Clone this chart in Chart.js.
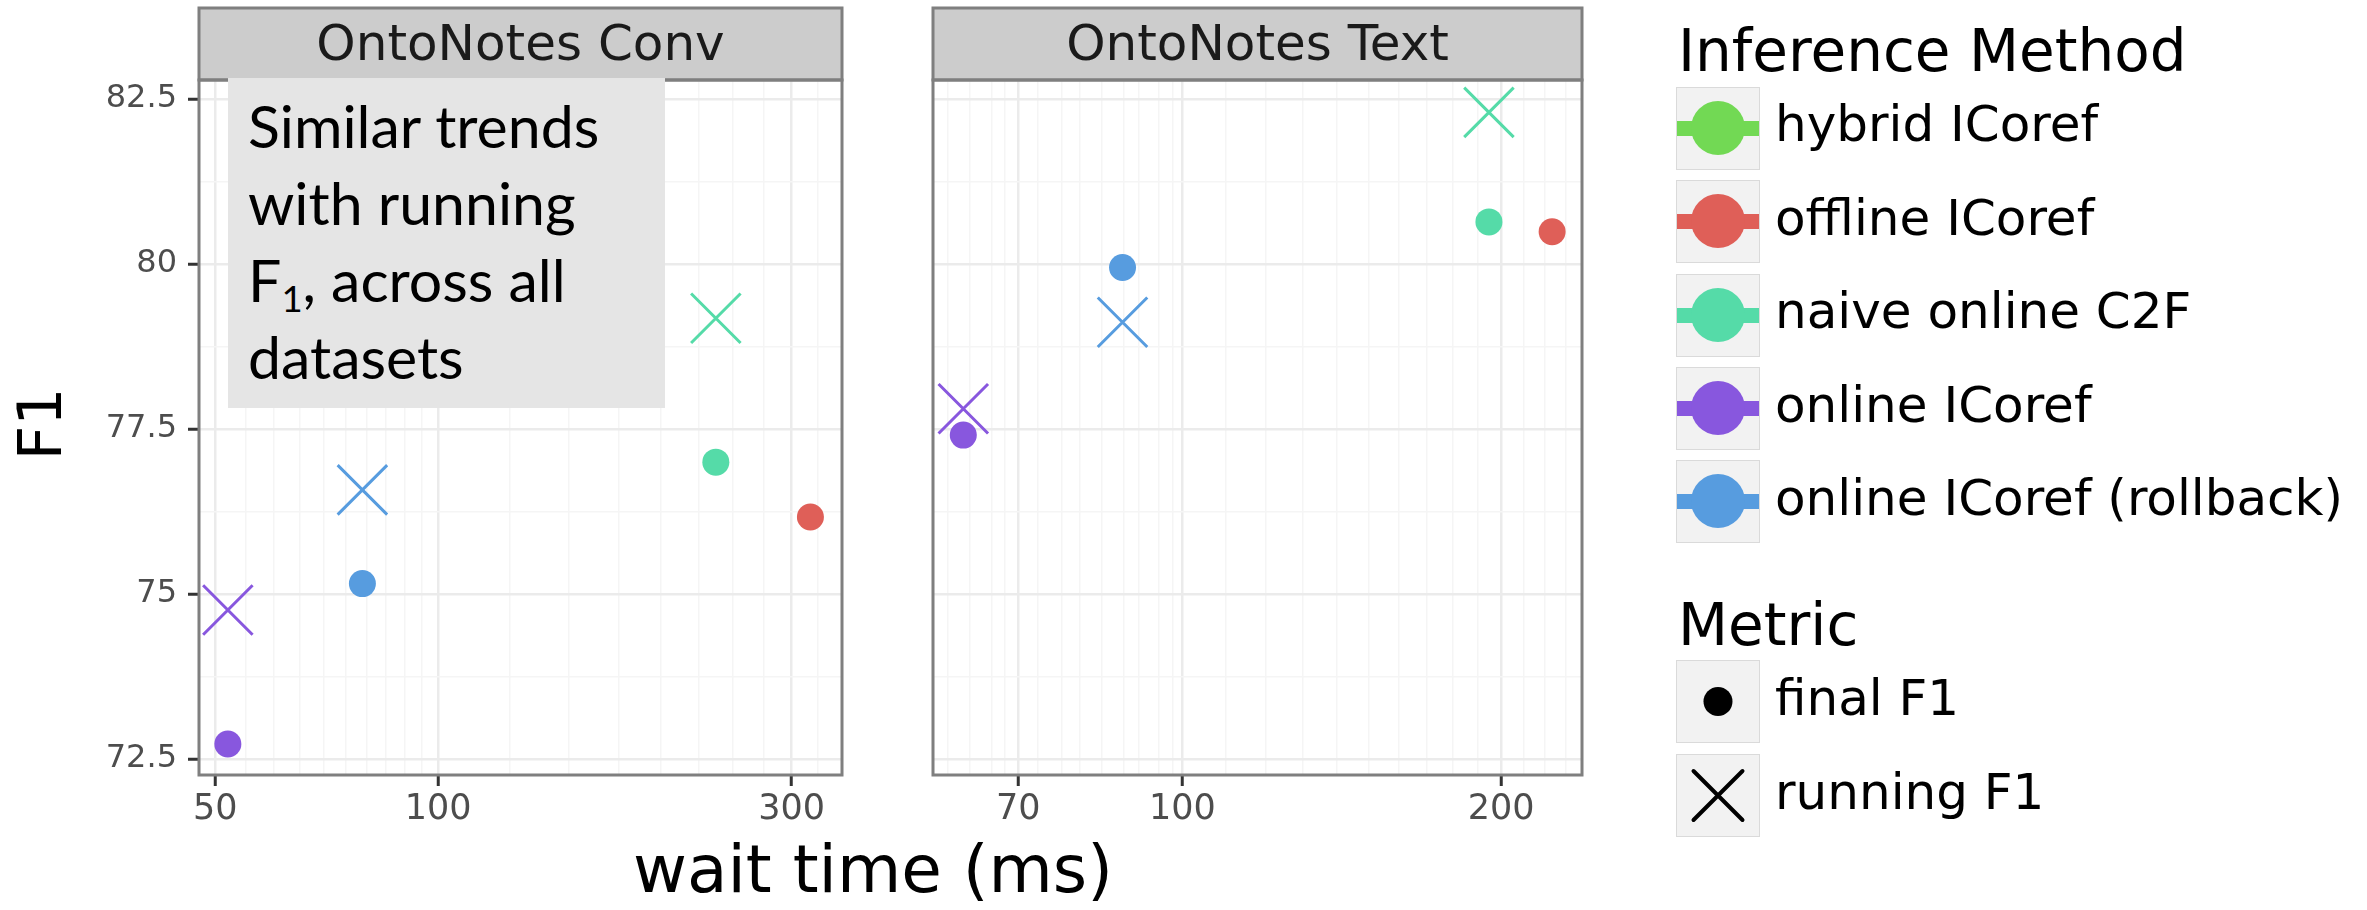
<!DOCTYPE html>
<html>
<head>
<meta charset="utf-8">
<script src="https://cdn.jsdelivr.net/npm/chart.js@4.4.1/dist/chart.umd.min.js"></script>
<style>
  body { margin: 0; background: #fff; }
  #wrap { position: relative; width: 2367px; height: 910px; overflow: hidden; font-family: 'DejaVu Sans', sans-serif; color: #000; }
  #wrap canvas { position: absolute; top: 0; }
  .note { position: absolute; left: 228px; top: 78px; width: 437px; height: 330px; box-sizing: border-box;
          padding: 9px 0 0 20px; background: #e5e5e5; font-family: 'Lato', sans-serif; font-size: 59px; line-height: 77px; color: #000; }
  .note sub { font-size: 0.62em; vertical-align: -0.28em; line-height: 0; }
  .ytitle { position: absolute; left: -60px; top: 394px; width: 200px; height: 60px; line-height: 60px; font-size: 60px;
            text-align: center; transform: rotate(-90deg); }
  .xtitle { position: absolute; left: 573px; top: 837px; width: 600px; text-align: center; font-size: 66px; line-height: 66px; }
  .ltitle { position: absolute; left: 1678px; font-size: 58px; line-height: 58px; white-space: nowrap; }
  .key { position: absolute; left: 1676px; width: 84px; height: 83px; box-sizing: border-box; background: #f2f2f2; border: 1.5px solid #dadada; }
  .key .bar { position: absolute; left: 0; right: 0; top: 33px; height: 15px; }
  .key .dot { position: absolute; left: 14px; top: 13px; width: 54px; height: 54px; border-radius: 50%; }
  .lab { position: absolute; left: 1775px; font-size: 50px; line-height: 50px; white-space: nowrap; }
</style>
</head>
<body>
<div id="wrap">
  <canvas id="convChart" width="880" height="910" style="left:0;width:880px;height:910px"></canvas>
  <canvas id="textChart" width="740" height="910" style="left:880px;width:740px;height:910px"></canvas>
  <div class="note">Similar trends<br>with running<br>F<sub>1</sub>, across all<br>datasets</div>
  <div class="ytitle">F1</div>
  <div class="xtitle">wait time (ms)</div>
  <div id="legend"></div>
</div>
<script>
// categories
const methods = ['hybrid ICoref', 'offline ICoref', 'naive online C2F', 'online ICoref', 'online ICoref (rollback)'];
const methodColors = ['#72d954', '#df5f58', '#55dba8', '#8857de', '#579cdf'];
const metrics = ['final F1', 'running F1'];
const panels = ['OntoNotes Conv', 'OntoNotes Text'];

// OntoNotes Conv (null = not shown)
const convFinalWait = [null, 318, 237, 52, 79];
const convFinalF1 = [null, 76.17, 77.0, 72.73, 75.16];
const convRunningWait = [null, null, 237, 52, 79];
const convRunningF1 = [null, null, 79.18, 74.76, 76.58];

// OntoNotes Text
const textFinalWait = [null, 223.5, 194.8, 62.1, 87.8];
const textFinalF1 = [null, 80.49, 80.64, 77.41, 79.95];
const textRunningWait = [null, null, 194.8, 62.1, 87.8];
const textRunningF1 = [null, null, 82.30, 77.81, 79.12];

// ticks
const yTicks = [72.5, 75, 77.5, 80, 82.5];
const yMinor = [71.25, 73.75, 76.25, 78.75, 81.25];
const convXTicks = [50, 100, 300];
const convXMinor = [55, 60, 65, 70, 75, 80, 85, 90, 95, 125, 150, 175, 200, 225, 250, 275, 325];
const textXTicks = [70, 100, 200];
const textXMinor = [60, 63, 66, 68, 73, 77, 80, 84, 88, 91, 95, 98, 110, 120, 130, 140, 150, 160, 170, 180, 190, 210, 220, 230];

function buildDatasets(finalWait, finalF1, runWait, runF1) {
  const sets = [];
  methods.forEach((m, i) => {
    sets.push({
      label: m + ' / final F1',
      data: finalWait[i] == null ? [] : [{ x: finalWait[i], y: finalF1[i] }],
      pointStyle: 'circle', pointRadius: 13.5, backgroundColor: methodColors[i],
      borderColor: methodColors[i], borderWidth: 0, showLine: false
    });
  });
  methods.forEach((m, i) => {
    sets.push({
      label: m + ' / running F1',
      data: runWait[i] == null ? [] : [{ x: runWait[i], y: runF1[i] }],
      pointStyle: 'crossRot', pointRadius: 35, backgroundColor: methodColors[i],
      borderColor: methodColors[i], borderWidth: 3, showLine: false
    });
  });
  return sets;
}

// strip on top + grey panel border
const panelFrame = {
  id: 'panelFrame',
  afterDraw(chart, args, opts) {
    const { ctx, chartArea: a } = chart;
    ctx.save();
    ctx.fillStyle = '#cccccc';
    ctx.fillRect(a.left, 8, a.right - a.left, a.top - 8);
    ctx.strokeStyle = '#7f7f7f';
    ctx.lineWidth = 3;
    ctx.strokeRect(a.left, 8, a.right - a.left, a.top - 8);
    ctx.strokeRect(a.left, a.top, a.right - a.left, a.bottom - a.top);
    ctx.fillStyle = '#1a1a1a';
    ctx.font = '50px "DejaVu Sans"';
    ctx.textAlign = 'center';
    ctx.textBaseline = 'alphabetic';
    ctx.fillText(opts.text, (a.left + a.right) / 2, 60);
    ctx.restore();
  }
};

function makeScales(xMin, xMax, xMajor, xMinor, showY) {
  const isMaj = (list, v) => list.includes(v);
  return {
    x: {
      type: 'logarithmic', min: xMin, max: xMax,
      afterBuildTicks: s => { s.ticks = xMajor.concat(xMinor).filter(v => v >= xMin && v <= xMax).sort((a, b) => a - b).map(v => ({ value: v })); },
      afterFit: s => { s.height = 135; },
      border: { display: false },
      grid: {
        color: c => isMaj(xMajor, c.tick.value) ? '#ebebeb' : '#f5f5f5',
        lineWidth: c => isMaj(xMajor, c.tick.value) ? 2.5 : 1.5,
        tickColor: c => isMaj(xMajor, c.tick.value) ? '#333333' : 'rgba(0,0,0,0)',
        tickLength: 11, tickWidth: 3
      },
      ticks: {
        autoSkip: false, maxRotation: 0, padding: 3, color: '#4d4d4d',
        font: { family: 'DejaVu Sans', size: 35 },
        callback: v => isMaj(xMajor, v) ? String(v) : ''
      }
    },
    y: {
      min: 72.26, max: 82.79,
      afterBuildTicks: s => { s.ticks = yTicks.concat(yMinor).filter(v => v >= 72.26 && v <= 82.79).sort((a, b) => a - b).map(v => ({ value: v })); },
      afterFit: s => { s.width = showY ? 199 : 53; },
      border: { display: false },
      grid: {
        color: c => isMaj(yTicks, c.tick.value) ? '#ebebeb' : '#f5f5f5',
        lineWidth: c => isMaj(yTicks, c.tick.value) ? 2.5 : 1.5,
        tickColor: c => isMaj(yTicks, c.tick.value) ? '#333333' : 'rgba(0,0,0,0)',
        drawTicks: showY, tickLength: 11, tickWidth: 3
      },
      ticks: {
        display: showY, autoSkip: false, padding: 11, color: '#4d4d4d',
        font: { family: 'DejaVu Sans', size: 32 },
        callback: v => isMaj(yTicks, v) ? String(v) : ''
      }
    }
  };
}

function makePanel(id, title, datasets, xMin, xMax, xMajor, xMinor, showY, padRight) {
  return new Chart(document.getElementById(id), {
    type: 'scatter',
    data: { datasets: datasets },
    options: {
      responsive: false, animation: false, devicePixelRatio: 1, events: [],
      layout: { padding: { top: 80, right: padRight, left: 0, bottom: 0 } },
      plugins: { legend: { display: false }, tooltip: { enabled: false }, panelFrame: { text: title } },
      scales: makeScales(xMin, xMax, xMajor, xMinor, showY)
    },
    plugins: [panelFrame]
  });
}

makePanel('convChart', panels[0], buildDatasets(convFinalWait, convFinalF1, convRunningWait, convRunningF1),
  47.54, 350.8, convXTicks, convXMinor, true, 20);
makePanel('textChart', panels[1], buildDatasets(textFinalWait, textFinalF1, textRunningWait, textRunningF1),
  58.14, 238.5, textXTicks, textXMinor, false, 25);

// legend
const legend = document.getElementById('legend');
function add(html) { legend.insertAdjacentHTML('beforeend', html); }
add('<div class="ltitle" style="top:21.6px">Inference Method</div>');
methods.forEach((m, i) => {
  const top = 86.7 + i * 93.4;
  add(`<div class="key" style="top:${top}px"><div class="bar" style="background:${methodColors[i]}"></div><div class="dot" style="background:${methodColors[i]}"></div></div>`);
  add(`<div class="lab" style="top:${top + 41.5 + 13.5 - 42.3}px">${m}</div>`);
});
add('<div class="ltitle" style="top:596px">Metric</div>');
const metricKeys = [
  '<svg width="84" height="83" style="position:absolute;left:-1.5px;top:-1.5px"><circle cx="42" cy="41.5" r="14.5" fill="#000"/></svg>',
  '<svg width="84" height="83" style="position:absolute;left:-1.5px;top:-1.5px"><path d="M17.5 17 L66.5 66 M66.5 17 L17.5 66" stroke="#000" stroke-width="4" stroke-linecap="round"/></svg>'
];
metrics.forEach((m, i) => {
  const top = 660 + i * 94;
  add(`<div class="key" style="top:${top}px">${metricKeys[i]}</div>`);
  add(`<div class="lab" style="top:${top + 41.5 + 13.5 - 42.3}px">${m}</div>`);
});
</script>
</body>
</html>
